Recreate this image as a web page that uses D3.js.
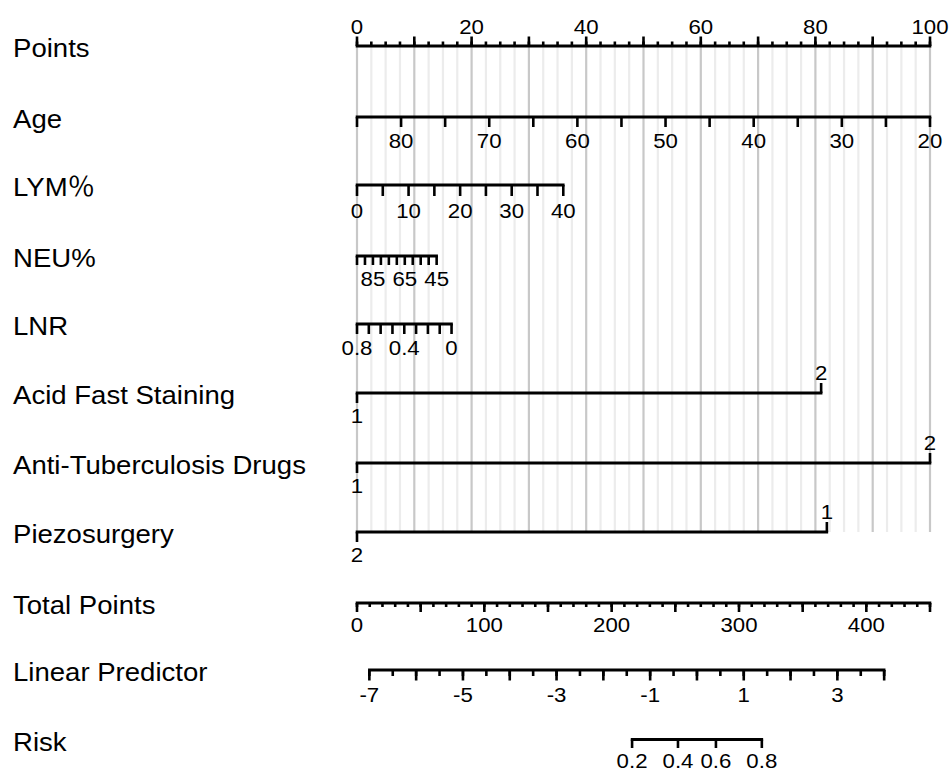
<!DOCTYPE html>
<html>
<head>
<meta charset="utf-8">
<script src="https://cdn.jsdelivr.net/npm/d3@7"></script>
<style>
  body { margin: 0; background: #fff; }
  text { font-family: "Liberation Sans", Arial, "Noto Sans CJK SC", sans-serif; fill: #000; }
</style>
</head>
<body>
<svg id="chart"></svg>
<script>
// Row names, top to bottom
const rowLabels = ['Points', 'Age', 'LYM％', 'NEU%', 'LNR', 'Acid Fast Staining',
  'Anti-Tuberculosis Drugs', 'Piezosurgery', 'Total Points', 'Linear Predictor', 'Risk'];

// Points scale
const pointsLabels = [0, 20, 40, 60, 80, 100];

// Continuous predictors: value at 0 points, value at max points, max points
const ageRange = [85, 20];
const agePoints = [0, 100];
const ageLabels = [80, 70, 60, 50, 40, 30, 20];

const lymRange = [0, 40];
const lymPoints = [0, 36];
const lymLabels = [0, 10, 20, 30, 40];

const neuRange = [95, 45];
const neuPoints = [0, 13.9];
const neuLabels = [85, 65, 45];

const lnrRange = [0.8, 0];
const lnrPoints = [0, 16.5];
const lnrLabels = [0.8, 0.4, 0];

// Categorical predictors: levels and their points
const acidLevels = ['1', '2'];
const acidPoints = [0, 81];
const antiLevels = ['1', '2'];
const antiPoints = [0, 100];
const piezoLevels = ['2', '1'];
const piezoPoints = [0, 82];

// Total points, linear predictor, risk
const totalRange = [0, 450];
const totalLabels = [0, 100, 200, 300, 400];
const lpRange = [-7, 4];
const lpTotal = [9.7, 414]; // total points that match lpRange ends
const lpLabels = [-7, -5, -3, -1, 1, 3];
const riskLabels = [0.2, 0.4, 0.6, 0.8];

const width = 951;
const height = 775;
const xLeft = 357;
const xRight = 930;
const stretch = 1.06; // text in the original is slightly wide

// y of each row's axis line (same order as rowLabels)
const rowY = [46, 117, 185, 256, 324, 393, 463, 532, 603, 670, 739.5];

const svg = d3.select('#chart')
  .attr('width', width)
  .attr('height', height);

svg.append('rect').attr('width', width).attr('height', height).attr('fill', '#fff');

const xPts = d3.scaleLinear().domain([0, 100]).range([xLeft, xRight]);
const xTotal = d3.scaleLinear().domain(totalRange).range([xLeft, xRight]);
const xLp = d3.scaleLinear().domain(lpRange).range(lpTotal.map(xTotal));
const logit = (p) => Math.log(p / (1 - p));

// Gridlines behind everything
const grid = svg.append('g');
grid.selectAll('line.minor')
  .data(d3.range(0, 100.01, 2.5).filter((d) => d % 10 !== 0))
  .join('line')
  .attr('x1', xPts).attr('x2', xPts)
  .attr('y1', rowY[0]).attr('y2', rowY[7])
  .attr('stroke', '#ececec')
  .attr('stroke-width', 2.2);
grid.selectAll('line.major')
  .data(d3.range(0, 100.01, 10))
  .join('line')
  .attr('x1', xPts).attr('x2', xPts)
  .attr('y1', rowY[0]).attr('y2', rowY[7])
  .attr('stroke', '#c8c8c8')
  .attr('stroke-width', 2.2);

// Row labels on the left
svg.append('g')
  .selectAll('text')
  .data(rowLabels)
  .join('text')
  .attr('transform', (d, i) => `translate(13,${rowY[i] + 11}) scale(${stretch},1)`)
  .style('font-size', '26px')
  .text((d) => d);

const axes = svg.append('g');

function addText(x, y, str, size = 21) {
  axes.append('text')
    .attr('transform', `translate(${x},${y}) scale(${stretch},1)`)
    .attr('text-anchor', 'middle')
    .style('font-size', `${size}px`)
    .text(str);
}

// Draw one axis line with tick sets and labels
// tickSets: [{values, len}], dir: 1 = ticks down, -1 = ticks up
function drawAxis(y, x, ends, tickSets, labels, dir, labelDy) {
  axes.append('line')
    .attr('x1', x(ends[0]) - 1.3).attr('x2', x(ends[1]) + 1.3)
    .attr('y1', y).attr('y2', y)
    .attr('stroke', '#000')
    .attr('stroke-width', 2.8);
  tickSets.forEach((t) => {
    axes.append('g')
      .selectAll('line')
      .data(t.values)
      .join('line')
      .attr('x1', x).attr('x2', x)
      .attr('y1', y).attr('y2', y + dir * t.len)
      .attr('stroke', '#000')
      .attr('stroke-width', 2.6);
  });
  labels.forEach((v) => addText(x(v), y + labelDy, String(v)));
}

// Points
drawAxis(rowY[0], xPts, [0, 100], [
  { values: d3.range(0, 100.01, 2.5), len: 4.5 },
  { values: d3.range(0, 100.01, 10), len: 9.5 },
], pointsLabels, -1, -12.5);

// Continuous predictors
const varScale = (range, pts) => d3.scaleLinear().domain(range).range(pts.map(xPts));

const xAge = varScale(ageRange, agePoints);
drawAxis(rowY[1], xAge, ageRange, [{ values: d3.range(85, 19.9, -5), len: 10 }], ageLabels, 1, 31);

const xLym = varScale(lymRange, lymPoints);
drawAxis(rowY[2], xLym, lymRange, [{ values: d3.range(0, 40.1, 5), len: 11 }], lymLabels, 1, 33);

const xNeu = varScale(neuRange, neuPoints);
drawAxis(rowY[3], xNeu, neuRange, [{ values: d3.range(95, 44.9, -5), len: 9 }], neuLabels, 1, 30);

const xLnr = varScale(lnrRange, lnrPoints);
drawAxis(rowY[4], xLnr, lnrRange, [{ values: d3.range(0, 8.1, 1).map((d) => d / 10), len: 10 }], lnrLabels, 1, 31);

// Categorical predictors: first level below left end, last level above right end
function drawCategory(y, levels, points) {
  const x0 = xPts(points[0]);
  const x1 = xPts(points[1]);
  axes.append('line')
    .attr('x1', x0 - 1.3).attr('x2', x1 + 1.3)
    .attr('y1', y).attr('y2', y)
    .attr('stroke', '#000').attr('stroke-width', 2.8);
  axes.append('line')
    .attr('x1', x0).attr('x2', x0).attr('y1', y).attr('y2', y + 10)
    .attr('stroke', '#000').attr('stroke-width', 2.6);
  axes.append('line')
    .attr('x1', x1).attr('x2', x1).attr('y1', y).attr('y2', y - 10)
    .attr('stroke', '#000').attr('stroke-width', 2.6);
  addText(x0, y + 30, levels[0]);
  addText(x1, y - 13, levels[1]);
}
drawCategory(rowY[5], acidLevels, acidPoints);
drawCategory(rowY[6], antiLevels, antiPoints);
drawCategory(rowY[7], piezoLevels, piezoPoints);

// Total points
drawAxis(rowY[8], xTotal, totalRange, [
  { values: d3.range(0, 450.1, 10), len: 4 },
  { values: d3.range(0, 450.1, 50), len: 9 },
], totalLabels, 1, 29);

// Linear predictor
drawAxis(rowY[9], xLp, lpRange, [
  { values: d3.range(-7, 4.01, 0.5), len: 6 },
  { values: d3.range(-7, 4.01, 1), len: 10.5 },
], lpLabels, 1, 32);

// Risk, placed on the linear predictor through the logit
const xRisk = (p) => xLp(logit(p));
drawAxis(rowY[10], xRisk, [riskLabels[0], riskLabels[riskLabels.length - 1]],
  [{ values: riskLabels, len: 8.5 }], riskLabels, 1, 28.5);
</script>
</body>
</html>
